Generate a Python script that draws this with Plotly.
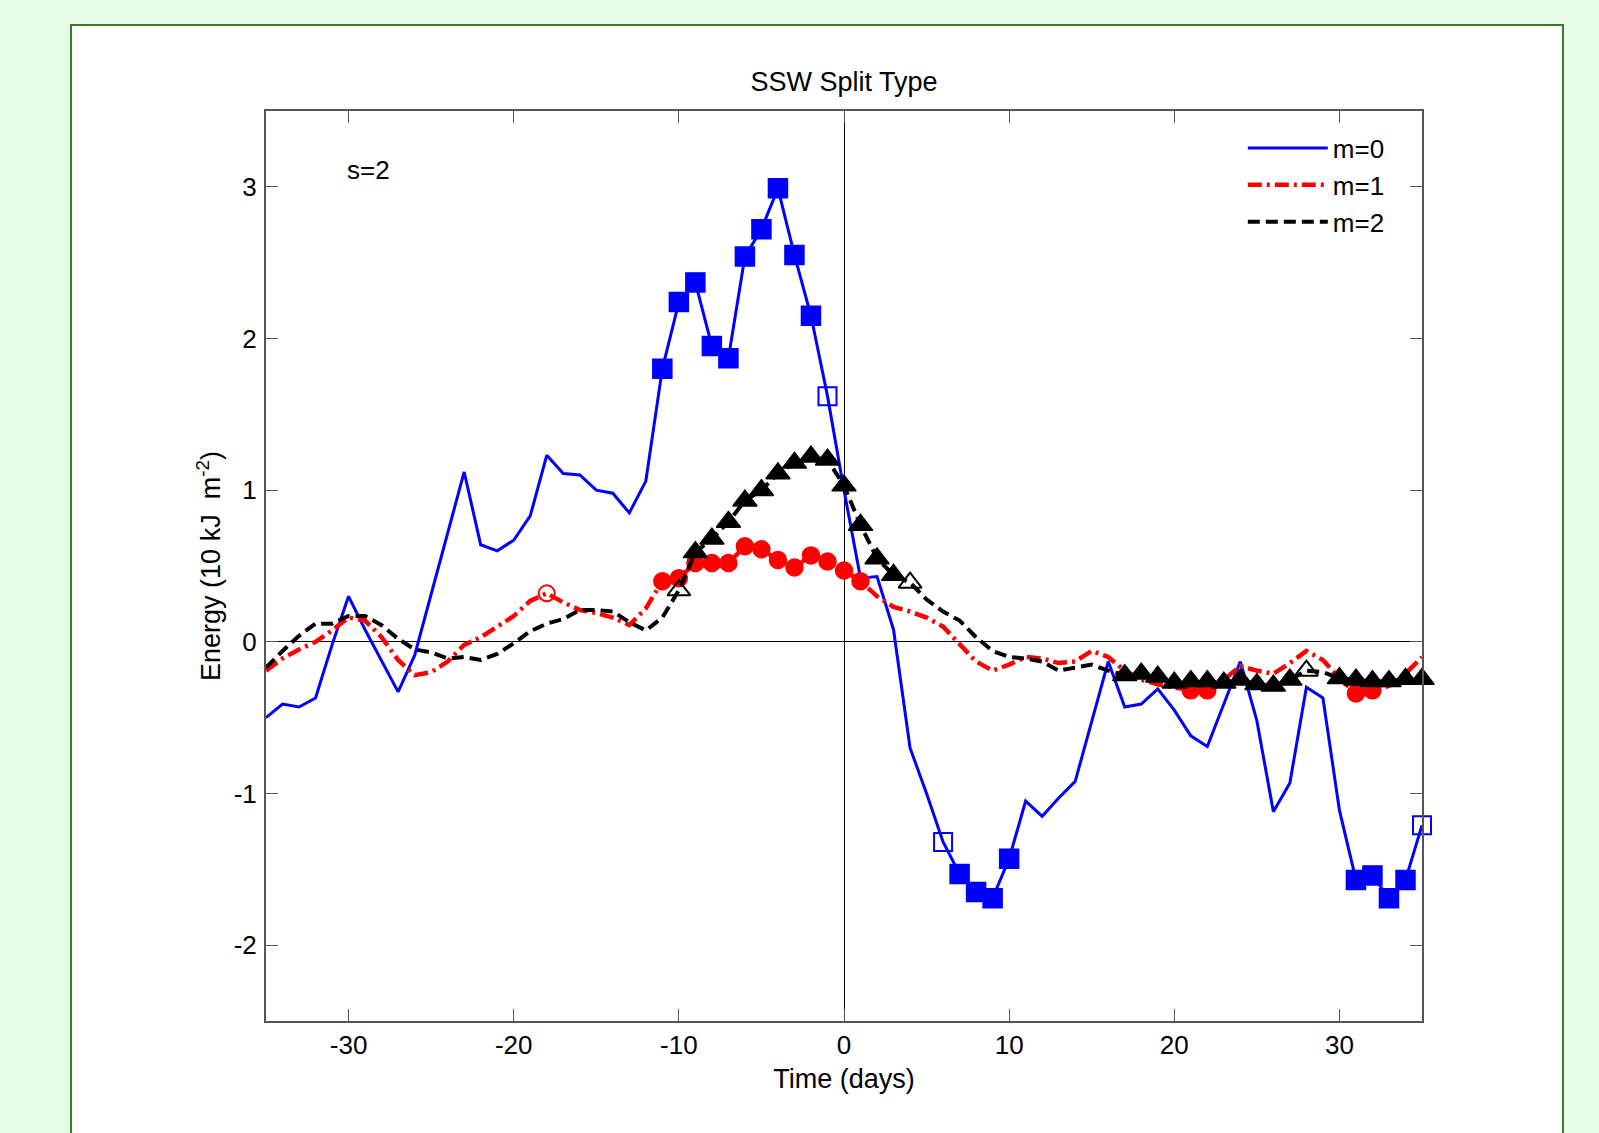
import plotly.graph_objects as go

# ---------------- data ----------------
days = list(range(-35, 36))

m0 = [-0.50, -0.41, -0.43, -0.37, -0.02, 0.30, 0.08, -0.13, -0.33, -0.09,
      0.31, 0.72, 1.12, 0.64, 0.60, 0.67, 0.83, 1.23, 1.11, 1.10,
      1.00, 0.98, 0.85, 1.06, 1.80, 2.24, 2.37, 1.95, 1.87, 2.54,
      2.72, 2.99, 2.55, 2.15, 1.62, 1.00, 0.42, 0.43, 0.08, -0.70,
      -1.00, -1.32, -1.53, -1.65, -1.69, -1.43, -1.05, -1.15, -1.03, -0.92,
      -0.53, -0.13, -0.43, -0.41, -0.31, -0.45, -0.62, -0.69, -0.41, -0.13,
      -0.52, -1.12, -0.93, -0.30, -0.37, -1.11, -1.57, -1.54, -1.69, -1.57,
      -1.21]

m1 = [-0.19, -0.11, -0.05, 0.00, 0.075, 0.16, 0.14, 0.03, -0.12, -0.22,
      -0.20, -0.13, -0.02, 0.03, 0.10, 0.17, 0.27, 0.32, 0.26, 0.21,
      0.19, 0.16, 0.11, 0.22, 0.40, 0.42, 0.52, 0.52, 0.52, 0.63,
      0.61, 0.54, 0.49, 0.57, 0.53, 0.47, 0.40, 0.30, 0.23, 0.20,
      0.16, 0.10, -0.01, -0.13, -0.19, -0.15, -0.10, -0.11, -0.14, -0.13,
      -0.06, -0.10, -0.19, -0.25, -0.28, -0.30, -0.32, -0.32, -0.25, -0.16,
      -0.19, -0.21, -0.14, -0.06, -0.12, -0.24, -0.34, -0.32, -0.29, -0.21,
      -0.10]

m2 = [-0.17, -0.06, 0.04, 0.12, 0.12, 0.17, 0.17, 0.11, 0.02, -0.05,
      -0.07, -0.11, -0.10, -0.12, -0.08, -0.01, 0.07, 0.12, 0.15, 0.21,
      0.21, 0.20, 0.13, 0.075, 0.16, 0.34, 0.59, 0.68, 0.79, 0.93,
      1.00, 1.11, 1.18, 1.22, 1.20, 1.03, 0.77, 0.55, 0.44, 0.39,
      0.28, 0.20, 0.14, 0.03, -0.06, -0.10, -0.11, -0.13, -0.19, -0.17,
      -0.15, -0.19, -0.22, -0.21, -0.23, -0.27, -0.26, -0.26, -0.27, -0.25,
      -0.28, -0.29, -0.25, -0.19, -0.20, -0.24, -0.25, -0.26, -0.26, -0.245,
      -0.245]

# significance markers (days)
m0_filled = list(range(-11, -1)) + [7, 8, 9, 10] + [31, 32, 33, 34]
m0_open = [-1, 6, 35]
m1_filled = list(range(-11, 2)) + [21, 22, 31, 32]
m1_open = [-18]
m2_filled = list(range(-9, 4)) + list(range(17, 28)) + list(range(30, 36))
m2_open = [-10, 4, 28]

series_names = ["m=0", "m=1", "m=2"]
title_text = "SSW Split Type"
x_title = "Time (days)"
y_title = "Energy (10 kJ\u00a0\u00a0m<sup>-2</sup>)"
x_ticks = [-30, -20, -10, 0, 10, 20, 30]
x_ticklabels = ["-30", "-20", "-10", "0", "10", "20", "30"]
y_ticks = [-2, -1, 0, 1, 2, 3]
y_ticklabels = ["-2", "-1", "0", "1", "2", "3"]

BLUE = "#0000FF"
RED = "#FF0000"
BLACK = "#000000"
FONT = "Liberation Sans, Arial, Helvetica, sans-serif"


def subset(sel, vals):
    xs = [d for d in days if d in sel]
    ys = [vals[days.index(d)] for d in xs]
    return xs, ys


fig = go.Figure()

specs = [
    (m0, BLUE, dict(color=BLUE, width=3), "square", "square-open", 19, m0_filled, m0_open),
    (m1, RED, dict(color=RED, width=4.5, dash="14px,5px,3px,5px"), "circle", "circle-open", 17, m1_filled, m1_open),
    (m2, BLACK, dict(color=BLACK, width=4, dash="12px,6px"), "triangle-up", "triangle-up-open", 21, m2_filled, m2_open),
]

for vals, col, line, fsym, osym, msize, fsel, osel in specs:
    fig.add_trace(go.Scatter(x=days, y=vals, mode="lines", line=line,
                             showlegend=False, hoverinfo="skip"))
    fx, fy = subset(fsel, vals)
    fig.add_trace(go.Scatter(x=fx, y=fy, mode="markers", showlegend=False,
                             cliponaxis=False,
                             marker=dict(symbol=fsym, size=msize, color=col,
                                         line=dict(color=col, width=1.5))))
    ox, oy = subset(osel, vals)
    fig.add_trace(go.Scatter(x=ox, y=oy, mode="markers", showlegend=False,
                             cliponaxis=False,
                             marker=dict(symbol=osym, size=msize - 1, color=col,
                                         line=dict(color=col, width=2))))

# legend-only entries (lines only, as in the reference)
for name, (vals, col, line, *_rest) in zip(series_names, specs):
    fig.add_trace(go.Scatter(x=[None], y=[None], mode="lines", name=name,
                             line=line))

# outer white panel with green border
fig.add_shape(type="rect", xref="paper", yref="paper",
              x0=-0.1687, x1=1.1220, y0=-0.14, y1=1.0945,
              fillcolor="white", line=dict(color="#3B7A1E", width=2),
              layer="below")

fig.add_annotation(x=-28.8, y=3.11, xref="x", yref="y", text="s=2",
                   showarrow=False, font=dict(family=FONT, size=26, color="black"))

axis_common = dict(
    showgrid=False, zeroline=True, zerolinecolor="black", zerolinewidth=1,
    showline=True, linecolor="#555555", linewidth=2, mirror="ticks",
    ticks="inside", ticklen=12, tickwidth=1, tickcolor="#555555",
    tickfont=dict(family=FONT, size=26, color="black"),
)

fig.update_xaxes(range=[-35, 35], tickvals=x_ticks, ticktext=x_ticklabels,
                 ticklabelstandoff=0,
                 title=dict(text=x_title, font=dict(family=FONT, size=27, color="black"),
                            standoff=10),
                 **axis_common)
fig.update_yaxes(range=[-2.5, 3.5], tickvals=y_ticks, ticktext=y_ticklabels,
                 ticklabelstandoff=2,
                 title=dict(text=y_title, font=dict(family=FONT, size=27, color="black"),
                            standoff=5),
                 **axis_common)

fig.update_layout(
    width=1599, height=1133,
    paper_bgcolor="#E6FFE6", plot_bgcolor="white",
    margin=dict(l=266, r=177, t=111, b=112, autoexpand=False),
    title=dict(text=title_text, x=0.5, xref="paper", xanchor="center",
               y=(1133 - 82) / 1133, yref="container", yanchor="middle",
               font=dict(family=FONT, size=27, color="black")),
    legend=dict(x=0.845, y=0.985, xanchor="left", yanchor="top",
                bgcolor="rgba(0,0,0,0)", borderwidth=0, itemwidth=80,
                font=dict(family=FONT, size=26, color="black"),
                tracegroupgap=0),
    showlegend=True,
)

fig.write_html(
    "out.html",
    config={"displayModeBar": False},
    post_script="document.body.style.margin='0px';document.body.style.overflow='hidden';",
)
